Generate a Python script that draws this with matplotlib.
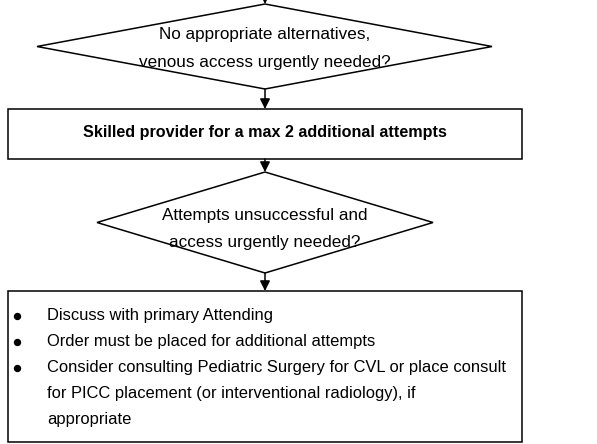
import matplotlib
matplotlib.use("Agg")
import matplotlib.pyplot as plt
from matplotlib.patches import Polygon, Rectangle

# texts of the flowchart
question1 = ["No appropriate alternatives,", "venous access urgently needed?"]
step1 = "Skilled provider for a max 2 additional attempts"
question2 = ["Attempts unsuccessful and", "access urgently needed?"]
bullets = [
    ["Discuss with primary Attending"],
    ["Order must be placed for additional attempts"],
    ["Consider consulting Pediatric Surgery for CVL or place consult",
     "for PICC placement (or interventional radiology), if",
     "appropriate"],
]

plt.rcParams["font.family"] = ["Liberation Sans", "DejaVu Sans"]

W, H = 597, 444
fig = plt.figure(figsize=(W / 100, H / 100), dpi=100)
ax = fig.add_axes([0, 0, 1, 1])
ax.set_xlim(0, W)
ax.set_ylim(H, 0)
ax.axis("off")

lw = 1.1
cx = 265


def diamond(top, bottom, left, right, lines, ys):
    mid = (top + bottom) / 2
    ax.add_patch(Polygon([(cx, top), (right, mid), (cx, bottom), (left, mid)],
                         closed=True, fill=False, lw=lw, ec="black"))
    for line, yy in zip(lines, ys):
        ax.text(cx, yy, line, ha="center", va="center", fontsize=12.3)


def arrow(y0, y1):
    ax.annotate("", xy=(cx, y1), xytext=(cx, y0),
                arrowprops=dict(arrowstyle="-|>", color="black", lw=lw,
                                mutation_scale=15, shrinkA=0, shrinkB=0))


arrow(-2, 4)
diamond(4, 89, 37, 492, question1, (35, 62))
arrow(89, 109)
ax.add_patch(Rectangle((8, 109), 514, 50, fill=False, lw=lw, ec="black"))
ax.text(cx, 132, step1, ha="center", va="center", fontsize=11.6, fontweight="bold")
arrow(159, 172)
diamond(172, 273, 97, 433, question2, (215, 242))
arrow(273, 291)
ax.add_patch(Rectangle((8, 291), 514, 151, fill=False, lw=lw, ec="black"))

y = 315
for item in bullets:
    ax.plot([17], [y + 1], marker="o", ms=4.3, color="black")
    for line in item:
        ax.text(47, y, line, ha="left", va="center", fontsize=11.9)
        y += 26

fig.savefig("out.png", dpi=100)
